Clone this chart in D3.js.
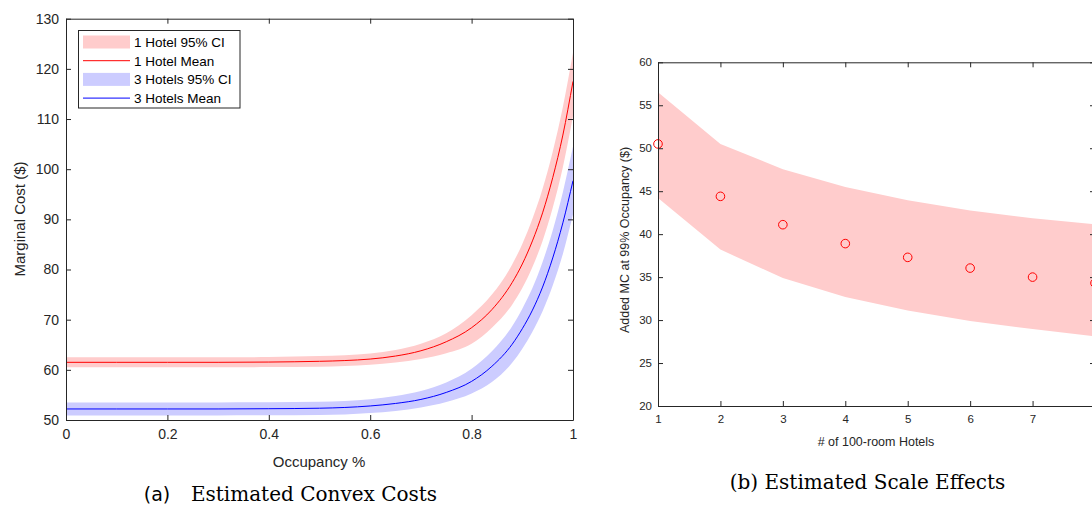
<!DOCTYPE html>
<html><head><meta charset="utf-8">
<script src="https://cdn.jsdelivr.net/npm/d3@7"></script>
<style>
body{margin:0;background:#fff;}
svg{display:block;overflow:hidden;}
.ax text{font-family:"Liberation Sans",Arial,sans-serif;fill:#262626;}
.ax path,.ax line{stroke:#262626;}
</style></head><body>
<svg id="c" width="1092" height="508"></svg>
<script>
// ---- Left panel data (Occupancy vs Marginal Cost) ----
const occ      = [0, 0.1, 0.2, 0.3, 0.4, 0.5, 0.55, 0.6, 0.65, 0.7, 0.75, 0.8, 0.84, 0.88, 0.9, 0.92, 0.94, 0.96, 0.98, 1.0];
const h1Mean   = [61.5,61.5,61.5,61.5,61.55,61.7,61.85,62.15,62.75,63.8,65.6,68.4,72.0,77.4,81.1,85.7,91.3,98.3,106.8,117.5];
const h1Upper  = [62.5,62.5,62.5,62.5,62.55,62.75,62.9,63.25,63.95,65.2,67.3,70.9,75.0,81.0,85.1,90.1,96.1,103.5,112.4,123.2];
const h1Lower  = [60.5,60.5,60.5,60.5,60.55,60.6,60.75,61.0,61.45,62.15,63.3,65.2,68.4,73.0,76.3,80.5,85.7,92.3,100.4,110.6];
const h3Mean   = [52.2,52.2,52.2,52.2,52.25,52.35,52.5,52.8,53.3,54.1,55.5,57.7,60.7,65.1,68.2,71.9,76.5,82.3,89.3,97.7];
const h3Upper  = [53.5,53.5,53.5,53.5,53.55,53.65,53.8,54.15,54.8,55.8,57.5,60.2,63.7,68.7,72.2,76.3,81.5,87.8,95.4,104.5];
const h3Lower  = [50.9,50.9,50.9,50.9,50.95,51.0,51.1,51.4,51.8,52.5,53.6,55.3,57.6,61.4,64.2,67.6,71.7,76.8,83.1,91.0];
const xTicksL  = [0, 0.2, 0.4, 0.6, 0.8, 1];
const yTicksL  = [50, 60, 70, 80, 90, 100, 110, 120, 130];
const legendLabels = ["1 Hotel 95% CI", "1 Hotel Mean", "3 Hotels 95% CI", "3 Hotels Mean"];

// ---- Right panel data (scale effects) ----
const hotels   = [1, 2, 3, 4, 5, 6, 7, 8];
const mcPoint  = [50.5, 44.4, 41.1, 38.9, 37.3, 36.05, 35.0, 34.3];
const mcUpper  = [56.5, 50.5, 47.55, 45.5, 43.95, 42.75, 41.85, 41.15];
const mcLower  = [44.2, 38.2, 34.9, 32.7, 31.1, 29.9, 28.95, 28.1];
const xTicksR  = [1, 2, 3, 4, 5, 6, 7, 8];
const yTicksR  = [20, 25, 30, 35, 40, 45, 50, 55, 60];

const svg = d3.select("#c");
const RED = "#ff0000", BLUE = "#0000ff", PINK = "#ffcccc", LAV = "#ccccff";
const SANS = "Liberation Sans, Arial, sans-serif";
const SERIF = "DejaVu Serif, serif";

// ================= LEFT PANEL =================
const xL = d3.scaleLinear().domain([0, 1]).range([66, 573]);
const yL = d3.scaleLinear().domain([50, 130]).range([420, 18.7]);
const gL = svg.append("g");

const band = (xs, lo, hi, xsc, ysc) => d3.area()
  .x((d, i) => xsc(xs[i])).y0((d, i) => ysc(lo[i])).y1((d, i) => ysc(hi[i]))
  .curve(d3.curveMonotoneX)(xs);
const line = (xs, ys, xsc, ysc) => d3.line()
  .x((d, i) => xsc(xs[i])).y((d, i) => ysc(ys[i]))
  .curve(d3.curveMonotoneX)(xs);

gL.append("path").attr("d", band(occ, h1Lower, h1Upper, xL, yL)).attr("fill", PINK);
gL.append("path").attr("d", line(occ, h1Mean, xL, yL)).attr("fill", "none").attr("stroke", RED).attr("stroke-width", 1);
gL.append("path").attr("d", band(occ, h3Lower, h3Upper, xL, yL)).attr("fill", LAV);
gL.append("path").attr("d", line(occ, h3Mean, xL, yL)).attr("fill", "none").attr("stroke", BLUE).attr("stroke-width", 1);

function axes(g, xs, ys, xt, yt, fs, padX, padY, xfmt, yfmt) {
  const [x0, x1] = xs.range(), [y0, y1] = ys.range();
  g.append("g").attr("class", "ax").attr("transform", `translate(0,${y0})`)
    .call(d3.axisBottom(xs).tickValues(xt).tickSizeInner(-5).tickSizeOuter(0).tickPadding(padX).tickFormat(xfmt))
    .call(s => s.selectAll("text").attr("font-size", fs));
  g.append("g").attr("class", "ax").attr("transform", `translate(0,${y1})`)
    .call(d3.axisTop(xs).tickValues(xt).tickSizeInner(-5).tickSizeOuter(0).tickFormat(""));
  g.append("g").attr("class", "ax").attr("transform", `translate(${x0},0)`)
    .call(d3.axisLeft(ys).tickValues(yt).tickSizeInner(-5).tickSizeOuter(0).tickPadding(padY).tickFormat(yfmt))
    .call(s => s.selectAll("text").attr("font-size", fs));
  g.append("g").attr("class", "ax").attr("transform", `translate(${x1},0)`)
    .call(d3.axisRight(ys).tickValues(yt).tickSizeInner(-5).tickSizeOuter(0).tickFormat(""));
  g.selectAll(".ax .domain").attr("stroke-width", 1);
}
axes(gL, xL, yL, xTicksL, yTicksL, "14px", 9, 7, d3.format("~g"), d3.format("d"));

gL.append("text").attr("x", 319).attr("y", 467).attr("text-anchor", "middle")
  .attr("font-family", SANS).attr("font-size", "15px").attr("fill", "#262626")
  .text("Occupancy %");
gL.append("text").attr("transform", "translate(25,219) rotate(-90)").attr("text-anchor", "middle")
  .attr("font-family", SANS).attr("font-size", "15px").attr("fill", "#262626")
  .text("Marginal Cost ($)");

// legend
const lg = gL.append("g");
lg.append("rect").attr("x", 78.5).attr("y", 30.5).attr("width", 161.5).attr("height", 77.5)
  .attr("fill", "#fff").attr("stroke", "#262626").attr("stroke-width", 1);
const legSwatch = [{t: "band", c: PINK}, {t: "line", c: RED}, {t: "band", c: LAV}, {t: "line", c: BLUE}];
legendLabels.forEach((lab, i) => {
  const cy = 42 + i * 18.7;
  if (legSwatch[i].t === "band") {
    lg.append("rect").attr("x", 83).attr("y", cy - 6.5).attr("width", 47).attr("height", 13).attr("fill", legSwatch[i].c);
  } else {
    lg.append("line").attr("x1", 83).attr("x2", 130).attr("y1", cy).attr("y2", cy).attr("stroke", legSwatch[i].c).attr("stroke-width", 1);
  }
  lg.append("text").attr("x", 134).attr("y", cy + 4.8)
    .attr("font-family", SANS).attr("font-size", "13.5px").attr("fill", "#000")
    .text(lab);
});

// caption (a)
svg.append("text").attr("x", 157).attr("y", 501).attr("text-anchor", "middle")
  .attr("font-family", "DejaVu Sans, sans-serif").attr("font-size", "19px").attr("fill", "#000")
  .text("(a)");
svg.append("text").attr("x", 314).attr("y", 501).attr("text-anchor", "middle")
  .attr("font-family", SERIF).attr("font-size", "20px").attr("fill", "#000")
  .text("Estimated Convex Costs");

// ================= RIGHT PANEL =================
const xR = d3.scaleLinear().domain([1, 8]).range([658, 1095]);
const yR = d3.scaleLinear().domain([20, 60]).range([406, 62.3]);
const gR = svg.append("g");

gR.append("path").attr("d", d3.area()
  .x((d, i) => xR(hotels[i])).y0((d, i) => yR(mcLower[i])).y1((d, i) => yR(mcUpper[i]))(hotels))
  .attr("fill", PINK);
gR.selectAll("circle.pt").data(hotels).join("circle").attr("class", "pt")
  .attr("cx", d => xR(d)).attr("cy", (d, i) => yR(mcPoint[i])).attr("r", 4.3)
  .attr("fill", "none").attr("stroke", RED).attr("stroke-width", 1);

axes(gR, xR, yR, xTicksR, yTicksR, "11.5px", 9, 6, d3.format("d"), d3.format("d"));

gR.append("text").attr("x", 876).attr("y", 446).attr("text-anchor", "middle")
  .attr("font-family", SANS).attr("font-size", "12.5px").attr("fill", "#262626")
  .text("# of 100-room Hotels");
gR.append("text").attr("transform", "translate(629,240) rotate(-90)").attr("text-anchor", "middle")
  .attr("font-family", SANS).attr("font-size", "12.5px").attr("fill", "#262626")
  .text("Added MC at 99% Occupancy ($)");

// caption (b)
svg.append("text").attr("x", 867.5).attr("y", 489).attr("text-anchor", "middle")
  .attr("font-family", SERIF).attr("font-size", "20px").attr("fill", "#000")
  .text("(b) Estimated Scale Effects");
</script></body></html>
